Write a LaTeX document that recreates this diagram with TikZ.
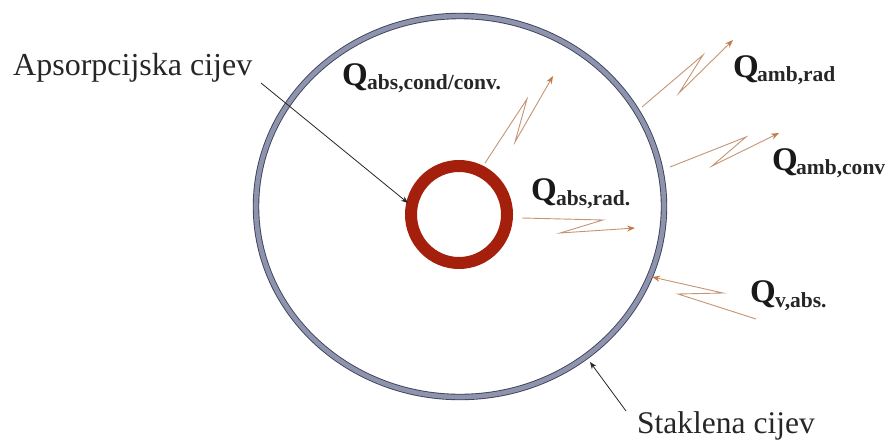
\documentclass[tikz,border=0pt]{standalone}
\usepackage{fontspec}
\setmainfont{Liberation Serif}
\usetikzlibrary{arrows.meta}
\definecolor{glassfill}{HTML}{8E93AE}
\definecolor{glassedge}{HTML}{3E4258}
\definecolor{tubered}{HTML}{A5200C}
\definecolor{heat}{HTML}{C49473}
\definecolor{heattip}{HTML}{C47A4A}
\tikzset{
  x=1pt,y=-1pt,
  label text/.style={anchor=base west,inner sep=0pt,font=\fontsize{31.5}{33}\selectfont,text=black!85},
  q text/.style={anchor=base west,inner sep=0pt,font=\bfseries\fontsize{33}{34}\selectfont,text=black!90},
  q sub/.style={anchor=base west,inner sep=0pt,font=\bfseries\fontsize{21.5}{23}\selectfont,text=black!85},
  pointer/.style={draw=black!85,line width=0.8pt,-{Stealth[length=7pt,width=5.5pt]}},
  heatflow/.style={draw=heat,line width=0.9pt,line join=miter,-{Stealth[length=8pt,width=6pt,color=heattip]}},
}
\begin{document}
\begin{tikzpicture}
\useasboundingbox (0,0) rectangle (890,441);
% glass tube
\path[draw=glassedge,line width=6.4pt] (460,206.5) ellipse [x radius=204,y radius=190.5];
\path[draw=glassfill,line width=4.6pt] (460,206.5) ellipse [x radius=204,y radius=190.5];
% absorber tube
\path[draw=tubered,line width=12pt] (459,214.5) ellipse [x radius=48,y radius=48.5];
% anchor points
\coordinate (apsoStart) at (261,83);
\coordinate (apsoEnd) at (408,203);
\coordinate (stakStart) at (626,411);
\coordinate (stakEnd) at (590,362);
\coordinate (a0) at (485,163); \coordinate (a1) at (527,99); \coordinate (a2) at (515,142); \coordinate (a3) at (553,76);
\coordinate (b0) at (642,107); \coordinate (b1) at (703,55); \coordinate (b2) at (679,93); \coordinate (b3) at (733,40);
\coordinate (c0) at (670,167); \coordinate (c1) at (746,137); \coordinate (c2) at (712,166); \coordinate (c3) at (779,133);
\coordinate (d0) at (522,218); \coordinate (d1) at (603,220); \coordinate (d2) at (560,233); \coordinate (d3) at (635,228);
\coordinate (e0) at (756,319); \coordinate (e1) at (678,294); \coordinate (e2) at (723,293); \coordinate (e3) at (652,277);
% labels
\node[label text,font=\fontsize{32}{33}\selectfont] (apso) at (13,76) {Apsorpcijska cijev};
\node[label text] (stak) at (637,433.5) {Staklena cijev};
\node[q text] (q1) at (342,86) {Q};
\node[q sub] (s1) at (367,90) {abs,cond/conv.};
\node[q text] (q2) at (733,78) {Q};
\node[q sub] (s2) at (757,82) {amb,rad};
\node[q text] (q3) at (772,170) {Q};
\node[q sub] (s3) at (796,174) {amb,conv};
\node[q text] (q4) at (531,200) {Q};
\node[q sub] (s4) at (556,205) {abs,rad.};
\node[q text] (q5) at (750,302) {Q};
\node[q sub] (s5) at (775,307) {v,abs.};
% connectors
\draw[pointer] (apsoStart) -- (apsoEnd);
\draw[pointer] (stakStart) -- (stakEnd);
\draw[heatflow] (a0) -- (a1) -- (a2) -- (a3);
\draw[heatflow] (b0) -- (b1) -- (b2) -- (b3);
\draw[heatflow] (c0) -- (c1) -- (c2) -- (c3);
\draw[heatflow] (d0) -- (d1) -- (d2) -- (d3);
\draw[heatflow] (e0) -- (e1) -- (e2) -- (e3);
\end{tikzpicture}
\end{document}
